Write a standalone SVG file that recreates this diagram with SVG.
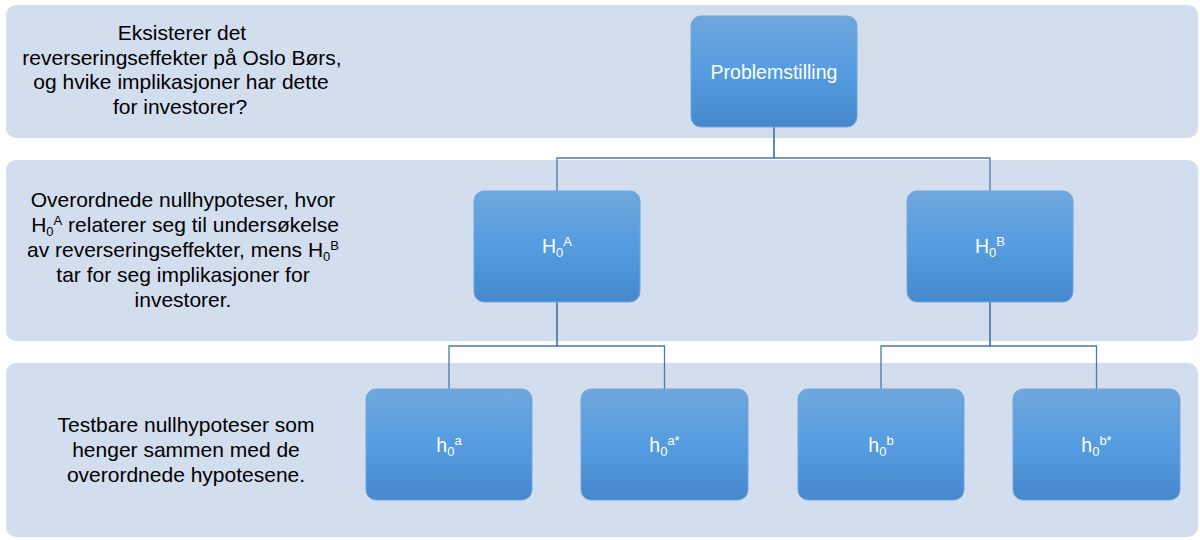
<svg xmlns="http://www.w3.org/2000/svg" width="1200" height="540" viewBox="0 0 1200 540">
<defs>
<linearGradient id="boxGrad" x1="0" y1="0" x2="0" y2="1">
<stop offset="0" stop-color="#6fa7dd"/>
<stop offset="0.5" stop-color="#559ce0"/>
<stop offset="1" stop-color="#4588cb"/>
</linearGradient>
<style>
.band{fill:#d2ddee;}
.box{fill:url(#boxGrad);stroke:#72a6da;stroke-width:1;}
.lbl{font-family:"Liberation Sans",Arial,sans-serif;font-size:21px;fill:#000;text-anchor:middle;}
.btxt{font-family:"Liberation Sans",Arial,sans-serif;font-size:19.5px;fill:#fff;text-anchor:middle;}
.sm{font-size:13px;}
.conn{fill:none;stroke:#4a7bb0;stroke-width:1.3;}
</style>
</defs>
<g id="bands">
<rect class="band" x="6" y="5" width="1192" height="133" rx="10"/>
<rect class="band" x="6" y="160" width="1192" height="181" rx="10"/>
<rect class="band" x="6" y="363" width="1192" height="174" rx="10"/>
</g>
<g id="band-labels">
<text class="lbl" x="182" y="40">Eksisterer det</text>
<text class="lbl" x="182" y="64.5">reverseringseffekter på Oslo Børs,</text>
<text class="lbl" x="181" y="89">og hvike implikasjoner har dette</text>
<text class="lbl" x="180" y="113.5">for investorer?</text>
<text class="lbl" x="183" y="207">Overordnede nullhypoteser, hvor</text>
<text class="lbl" x="185" y="232">H<tspan class="sm" dy="4">0</tspan><tspan class="sm" dy="-11">A</tspan><tspan dy="7"> relaterer seg til undersøkelse</tspan></text>
<text class="lbl" x="183" y="257">av reverseringseffekter, mens H<tspan class="sm" dy="4">0</tspan><tspan class="sm" dy="-11">B</tspan></text>
<text class="lbl" x="183" y="282">tar for seg implikasjoner for</text>
<text class="lbl" x="183" y="307">investorer.</text>
<text class="lbl" x="186" y="432">Testbare nullhypoteser som</text>
<text class="lbl" x="186" y="457">henger sammen med de</text>
<text class="lbl" x="186" y="482">overordnede hypotesene.</text>
</g>
<g id="connectors">
<path class="conn" d="M774,127 V158 H557 V191"/>
<path class="conn" d="M774,127 V158 H990 V191"/>
<path class="conn" d="M557,302 V346 H449 V389"/>
<path class="conn" d="M557,302 V346 H664.5 V389"/>
<path class="conn" d="M990,302 V346 H881 V389"/>
<path class="conn" d="M990,302 V346 H1096.5 V389"/>
</g>
<g id="problemstilling">
<rect class="box" x="691" y="16" width="166" height="111" rx="10"/>
<text class="btxt" x="774" y="79">Problemstilling</text>
</g>
<g id="H0A">
<rect class="box" x="474" y="191" width="166" height="111" rx="10"/>
<text class="btxt" x="557" y="253">H<tspan class="sm" dy="4">0</tspan><tspan class="sm" dy="-11">A</tspan></text>
</g>
<g id="H0B">
<rect class="box" x="907" y="191" width="166" height="111" rx="10"/>
<text class="btxt" x="990" y="253">H<tspan class="sm" dy="4">0</tspan><tspan class="sm" dy="-11">B</tspan></text>
</g>
<g id="h0a">
<rect class="box" x="366" y="389" width="166" height="111" rx="10"/>
<text class="btxt" x="449" y="452">h<tspan class="sm" dy="4">0</tspan><tspan class="sm" dy="-11">a</tspan></text>
</g>
<g id="h0a-star">
<rect class="box" x="581" y="389" width="167" height="111" rx="10"/>
<text class="btxt" x="664.5" y="452">h<tspan class="sm" dy="4">0</tspan><tspan class="sm" dy="-11">a*</tspan></text>
</g>
<g id="h0b">
<rect class="box" x="798" y="389" width="166" height="111" rx="10"/>
<text class="btxt" x="881" y="452">h<tspan class="sm" dy="4">0</tspan><tspan class="sm" dy="-11">b</tspan></text>
</g>
<g id="h0b-star">
<rect class="box" x="1013" y="389" width="167" height="111" rx="10"/>
<text class="btxt" x="1096.5" y="452">h<tspan class="sm" dy="4">0</tspan><tspan class="sm" dy="-11">b*</tspan></text>
</g>
</svg>
